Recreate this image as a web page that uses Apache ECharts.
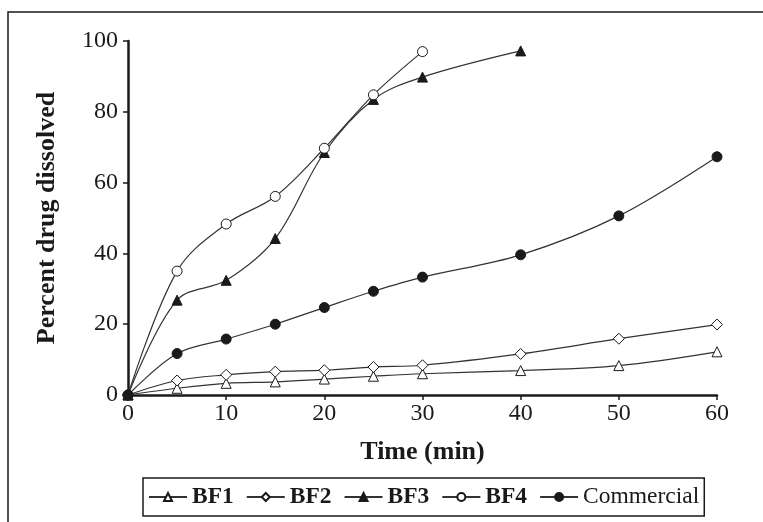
<!DOCTYPE html>
<html>
<head>
<meta charset="utf-8">
<script src="https://cdn.jsdelivr.net/npm/echarts@6/dist/echarts.min.js"></script>
<style>
  html, body { margin: 0; padding: 0; background: #fff; }
  #chart { width: 763px; height: 522px; }
</style>
</head>
<body>
<div id="chart"></div>
<script>
// sampling times (min)
var times = [0, 5, 10, 15, 20, 25, 30, 40, 50, 60]
// percent drug dissolved
var bf1 = [0, 1.9, 3.3, 3.7, 4.5, 5.3, 6.0, 6.9, 8.3, 12.2]
var bf2 = [0, 4.1, 5.7, 6.6, 7.0, 7.9, 8.4, 11.6, 15.9, 19.9]
var bf3 = [0, 26.8, 32.4, 44.2, 68.5, 83.5, 89.8, 97.2]
var bf4 = [0, 35.0, 48.3, 56.1, 69.7, 84.8, 97.0]
var commercial = [0, 11.7, 15.8, 20.0, 24.7, 29.3, 33.3, 39.6, 50.6, 67.3]
var xTicks = [0, 10, 20, 30, 40, 50, 60]
var yTicks = [0, 20, 40, 60, 80, 100]

var FONT = '"Liberation Serif", "Times New Roman", serif'
var INK = '#1a1a1a'

function pairs(vals) {
  return vals.map(function (v, i) { return [times[i], v] })
}

function makeSeries(name, vals, symbol, filled) {
  return {
    name: name,
    type: 'line',
    data: pairs(vals),
    smooth: 0.35,
    symbol: symbol,
    symbolSize: symbol === 'diamond' ? 11 : 10,
    showAllSymbol: true,
    lineStyle: { color: '#333', width: 1.2 },
    itemStyle: {
      color: filled ? INK : '#fff',
      borderColor: INK,
      borderWidth: 1
    }
  }
}

var chart = echarts.init(document.getElementById('chart'))
var option = {
  animation: false,
  backgroundColor: '#fff',
  textStyle: { fontFamily: FONT, color: INK },
  graphic: [
    {
      type: 'rect',
      shape: { x: 8, y: 12, width: 800, height: 600 },
      style: { fill: 'none', stroke: INK, lineWidth: 1.5 },
      silent: true
    }
  ],
  grid: { left: 128, right: 46, top: 41, bottom: 127 },
  xAxis: {
    type: 'value',
    min: 0,
    max: 60,
    interval: 10,
    name: 'Time (min)',
    nameLocation: 'middle',
    nameGap: 44,
    nameTextStyle: { fontFamily: FONT, fontSize: 26, fontWeight: 'bold', color: INK },
    axisLine: { lineStyle: { color: INK, width: 2.5 } },
    axisTick: { length: 5, lineStyle: { color: INK, width: 1.5 } },
    axisLabel: {
      fontFamily: FONT, fontSize: 24, color: INK, margin: 7,
      formatter: function (v) { return xTicks.indexOf(v) >= 0 ? String(v) : '' }
    },
    splitLine: { show: false }
  },
  yAxis: {
    type: 'value',
    min: 0,
    max: 100,
    interval: 20,
    name: 'Percent drug dissolved',
    nameLocation: 'middle',
    nameRotate: 90,
    nameGap: 68,
    nameTextStyle: { fontFamily: FONT, fontSize: 26, fontWeight: 'bold', color: INK },
    axisLine: { show: true, lineStyle: { color: INK, width: 2.5 } },
    axisTick: { show: true, length: 5, lineStyle: { color: INK, width: 1.5 } },
    axisLabel: {
      fontFamily: FONT, fontSize: 24, color: INK, margin: 10,
      formatter: function (v) { return yTicks.indexOf(v) >= 0 ? String(v) : '' }
    },
    splitLine: { show: false }
  },
  legend: {
    left: 143,
    top: 478,
    orient: 'horizontal',
    itemWidth: 38,
    itemHeight: 10,
    itemGap: 12,
    padding: [7, 5, 7, 5],
    borderColor: INK,
    borderWidth: 1.5,
    textStyle: { fontFamily: FONT, fontSize: 23.5, color: INK },
    data: [
      { name: 'BF1', textStyle: { fontWeight: 'bold' } },
      { name: 'BF2', textStyle: { fontWeight: 'bold' } },
      { name: 'BF3', textStyle: { fontWeight: 'bold' } },
      { name: 'BF4', textStyle: { fontWeight: 'bold' } },
      { name: 'Commercial', textStyle: { fontWeight: 'normal' } }
    ]
  },
  series: [
    makeSeries('BF1', bf1, 'triangle', false),
    makeSeries('BF2', bf2, 'diamond', false),
    makeSeries('BF3', bf3, 'triangle', true),
    makeSeries('BF4', bf4, 'circle', false),
    makeSeries('Commercial', commercial, 'circle', true)
  ]
}
chart.setOption(option)
</script>
</body>
</html>
